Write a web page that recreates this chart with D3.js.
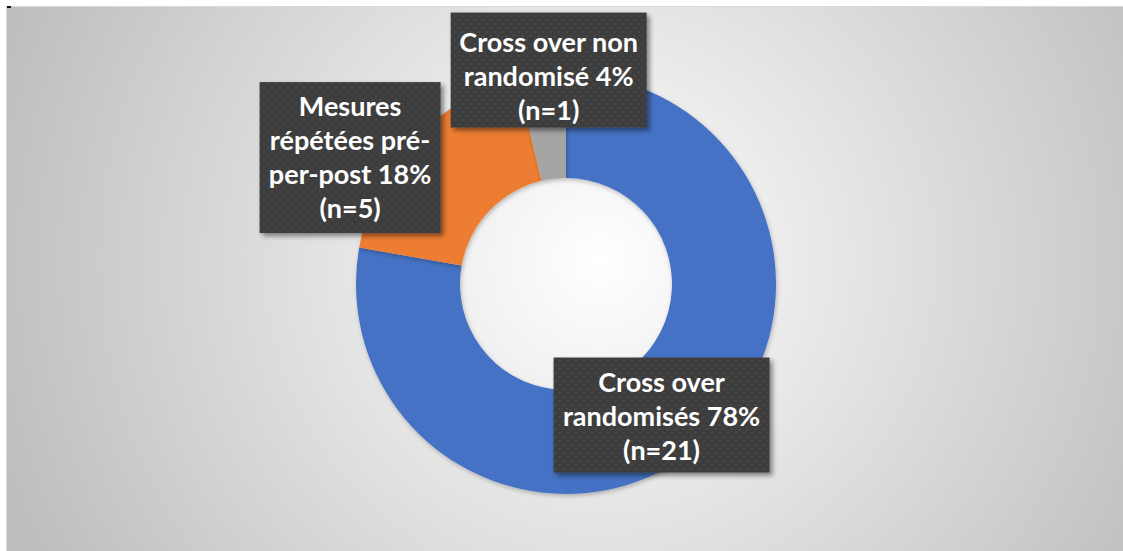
<!DOCTYPE html>
<html lang="fr">
<head>
    <meta charset="UTF-8">
    <title>donut</title>
    <script src="https://d3js.org/d3.v7.min.js"></script>
    <style>
        body { margin: 0; background: #fff; }
    </style>
</head>
<body>
<script>
    // data
    var categories = ["Cross over randomisés", "Mesures répétées pré-per-post", "Cross over non randomisé"];
    var counts = [21, 5, 1];
    var labelLines = [
        ["Cross over", "randomisés 78%", "(n=21)"],
        ["Mesures", "répétées pré-", "per-post 18%", "(n=5)"],
        ["Cross over non", "randomisé 4%", "(n=1)"]
    ];
    var colors = ["#4472C4", "#ED7D31", "#A5A5A5"];

    // layout of the label boxes (offset from slice centroid, box size, text shift)
    var labelLayout = [
        { dx: -6, dy: 10, w: 216, h: 115, ty: 11 },
        { dx: -101, dy: -18, w: 181, h: 151, ty: 9 },
        { dx: 1, dy: -57, w: 196, h: 115, ty: 16 }
    ];

    var width = 1123, height = 551;
    var cx = 566, cy = 284, outerR = 210, innerR = 106;

    var svg = d3.select("body").append("svg")
        .attr("width", width)
        .attr("height", height);

    var defs = svg.append("defs");

    var grad = defs.append("radialGradient")
        .attr("id", "bg")
        .attr("gradientUnits", "userSpaceOnUse")
        .attr("cx", 600).attr("cy", 260).attr("r", 640);
    grad.append("stop").attr("offset", "0%").attr("stop-color", "#ffffff");
    grad.append("stop").attr("offset", "100%").attr("stop-color", "#bdbdbd");

    var pat = defs.append("pattern")
        .attr("id", "dots")
        .attr("patternUnits", "userSpaceOnUse")
        .attr("width", 8).attr("height", 8);
    pat.append("rect").attr("width", 8).attr("height", 8).attr("fill", "#3d3d3d");
    pat.append("circle").attr("cx", 2).attr("cy", 2).attr("r", 1.1).attr("fill", "#4a4a4a");
    pat.append("circle").attr("cx", 6).attr("cy", 6).attr("r", 1.1).attr("fill", "#4a4a4a");

    var shadow = defs.append("filter").attr("id", "shadow")
        .attr("x", "-10%").attr("y", "-10%").attr("width", "130%").attr("height", "130%");
    shadow.append("feDropShadow")
        .attr("dx", 3).attr("dy", 3).attr("stdDeviation", 2.5)
        .attr("flood-color", "#000").attr("flood-opacity", 0.45);

    var softShadow = defs.append("filter").attr("id", "soft")
        .attr("x", "-10%").attr("y", "-10%").attr("width", "130%").attr("height", "130%");
    softShadow.append("feDropShadow")
        .attr("dx", 1).attr("dy", 2).attr("stdDeviation", 2)
        .attr("flood-color", "#000").attr("flood-opacity", 0.25);

    // chart area
    svg.append("rect")
        .attr("x", 6.5).attr("y", 6.5)
        .attr("width", width - 6).attr("height", height - 6)
        .attr("fill", "url(#bg)")
        .attr("stroke", "#d9d9d9");
    svg.append("rect")
        .attr("x", 7).attr("y", 6).attr("width", 4).attr("height", 2)
        .attr("fill", "#111");

    var pie = d3.pie().sort(null).value(function (d) { return d; });
    var arcs = pie(counts);

    var arc = d3.arc().innerRadius(innerR).outerRadius(outerR);

    var g = svg.append("g").attr("transform", "translate(" + cx + "," + cy + ")");

    g.selectAll("path")
        .data(arcs)
        .enter()
        .append("path")
        .attr("d", arc)
        .attr("fill", function (d, i) { return colors[i]; })
        .attr("filter", "url(#soft)");

    // labels
    var lineH = 34;
    var lbl = g.selectAll(".lbl")
        .data(arcs)
        .enter()
        .append("g")
        .attr("class", "lbl")
        .attr("transform", function (d, i) {
            var c = arc.centroid(d);
            return "translate(" + (c[0] + labelLayout[i].dx) + "," + (c[1] + labelLayout[i].dy) + ")";
        });

    lbl.append("rect")
        .attr("x", function (d, i) { return -labelLayout[i].w / 2; })
        .attr("y", function (d, i) { return -labelLayout[i].h / 2; })
        .attr("width", function (d, i) { return labelLayout[i].w; })
        .attr("height", function (d, i) { return labelLayout[i].h; })
        .attr("fill", "url(#dots)")
        .attr("filter", "url(#shadow)");

    lbl.each(function (d, i) {
        var lines = labelLines[i];
        var t = d3.select(this).append("text")
            .attr("text-anchor", "middle")
            .attr("fill", "#ffffff")
            .style("font-family", "Lato, 'Open Sans', sans-serif")
            .style("font-weight", "bold")
            .style("font-size", "27px");
        lines.forEach(function (s, k) {
            t.append("tspan")
                .attr("x", 0)
                .attr("y", (k - (lines.length - 1) / 2) * lineH + labelLayout[i].ty)
                .text(s);
        });
    });
</script>
</body>
</html>
